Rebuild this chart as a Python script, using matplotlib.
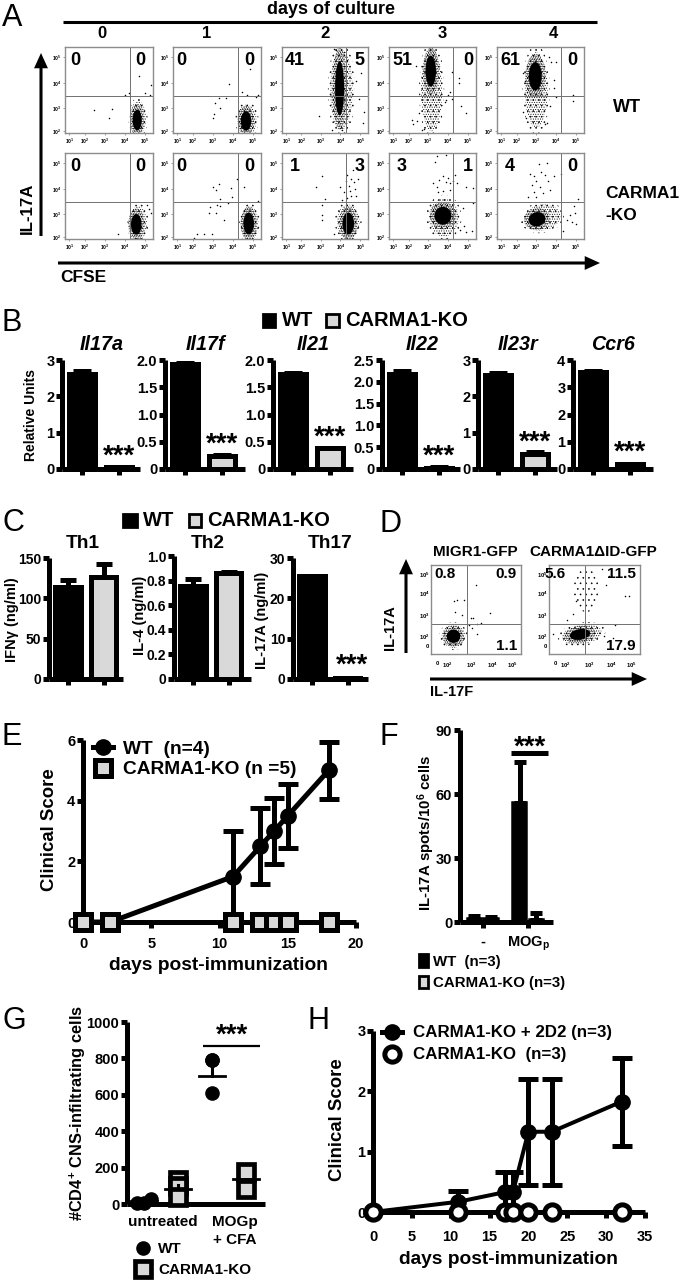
import matplotlib
matplotlib.use("Agg")
import matplotlib.pyplot as plt
from matplotlib.patches import Ellipse, Rectangle

plt.rcParams["font.family"] = ["Liberation Sans", "DejaVu Sans"]
plt.rcParams["font.weight"] = "bold"
plt.rcParams["mathtext.fontset"] = "custom"
plt.rcParams["mathtext.rm"] = "Liberation Sans:bold"
plt.rcParams["mathtext.bf"] = "Liberation Sans:bold"
plt.rcParams["mathtext.default"] = "bf"
plt.rcParams["hatch.linewidth"] = 0.4

W, H = 680, 1280
GREY = "#d9d9d9"
LW = 3.6

# panel A, channels in % of the plot box. Clouds are (x, y, rx, ry, angle)
DAYS = ["0", "1", "2", "3", "4"]
A_WT_NUMS = [("0", "0"), ("0", "0"), ("41", "5"), ("51", "0"), ("61", "0")]
A_KO_NUMS = [("0", "0"), ("0", "0"), ("1", "3"), ("3", "1"), ("4", "0")]
A_WT_CORE = [(82, 15, 7, 16, 0), (83, 14, 8, 15, 0), (67, 52, 7, 42, 0), (48, 72, 8, 24, 0), (44, 66, 10, 22, 0)]
A_WT_FRINGE = [(83, 17, 9, 20, 0), (84, 15, 11, 18, 0), (69, 50, 13, 47, 0), (49, 50, 12, 48, 0), (45, 50, 13, 44, 0)]
A_KO_CORE = [(81, 17, 8, 16, 0), (86, 18, 8, 17, 0), (77, 18, 9, 17, 0), (62, 27, 13, 14, 0), (46, 23, 13, 11, 15)]
A_KO_FRINGE = [(83, 18, 10, 20, 0), (87, 18, 10, 20, 0), (77, 20, 13, 20, 0), (63, 25, 17, 22, 0), (52, 25, 21, 15, 10)]
A_WT_X = [[84, 73, 68, 33, 53, 50, 91, 98, 97],
          [87, 64, 52, 60, 48, 53, 47, 46, 78, 84, 94, 97],
          [43, 86, 94, 92, 90, 95, 60, 63, 72, 75, 70, 58],
          [31, 81, 80, 72, 83, 89, 27, 32, 35, 28, 70, 68, 72, 66, 64, 40, 38],
          [87, 87, 68, 66, 66, 68, 61, 30, 32, 35, 60, 62, 30, 33, 58, 55]]
A_WT_Y = [[66, 47, 44, 27, 28, 17, 47, 56, 44],
          [75, 57, 41, 41, 35, 29, 22, 17, 48, 44, 42, 44],
          [20, 60, 12, 70, 40, 25, 98, 96, 94, 85, 4, 3],
          [78, 64, 58, 71, 31, 23, 15, 14, 23, 11, 48, 44, 40, 38, 36, 5, 3],
          [44, 37, 83, 62, 52, 42, 31, 70, 60, 48, 88, 82, 24, 18, 12, 10]]
A_KO_X = [[60, 93, 96, 98],
          [73, 81, 45, 52, 49, 66, 67, 53, 63, 53, 50, 42, 41, 49, 58, 27, 35, 44, 24, 97],
          [47, 40, 50, 47, 46, 46, 61, 75, 80, 78, 84, 72, 80, 76, 70, 85, 88, 68, 82, 86, 74, 79],
          [53, 55, 65, 51, 58, 62, 68, 74, 78, 55, 66, 70, 76, 56, 70, 62, 96, 89, 96, 85, 86, 95, 89, 82],
          [38, 48, 57, 42, 51, 55, 45, 40, 49, 59, 65, 74, 43, 53, 61, 36, 45, 93, 88, 90, 84, 91, 76, 80, 86]]
A_KO_Y = [[6, 40, 35, 30],
          [70, 60, 61, 64, 57, 59, 49, 46, 42, 38, 39, 37, 30, 30, 22, 6, 6, 6, 1, 44],
          [73, 61, 47, 39, 28, 22, 6, 75, 70, 62, 66, 55, 50, 48, 45, 58, 70, 60, 80, 50, 68, 56],
          [90, 96, 98, 65, 69, 73, 71, 67, 65, 61, 66, 65, 75, 55, 57, 56, 59, 61, 42, 36, 15, 9, 8, 11],
          [76, 87, 88, 73, 78, 75, 67, 63, 61, 67, 73, 76, 55, 54, 57, 49, 49, 46, 38, 30, 28, 17, 9, 22, 20]]

# panel B
GENES = ["Il17a", "Il17f", "Il21", "Il22", "Il23r", "Ccr6"]
B_WT = [2.62, 1.93, 1.74, 2.17, 2.60, 3.55]
B_WT_ERR = [0.08, 0.02, 0.03, 0.08, 0.05, 0.05]
B_KO = [0.05, 0.24, 0.38, 0.03, 0.42, 0.18]
B_KO_ERR = [0.01, 0.01, 0.01, 0.01, 0.06, 0.01]
B_TOPS = [3, 2, 2, 2.5, 3, 4]
B_TICKS = [[0, 1, 2, 3], [0, 0.5, 1, 1.5, 2], [0, 0.5, 1, 1.5, 2], [0, 0.5, 1, 1.5, 2, 2.5], [0, 1, 2, 3], [0, 1, 2, 3, 4]]
B_LABELS = [["0", "1", "2", "3"], ["0", "0.5", "1.0", "1.5", "2.0"], ["0", "0.5", "1.0", "1.5", "2.0"],
            ["0", "0.5", "1.0", "1.5", "2.0", "2.5"], ["0", "1", "2", "3"], ["0", "1", "2", "3", "4"]]

# panel C
C_TITLES = ["Th1", "Th2", "Th17"]
C_YLABELS = ["IFNγ (ng/ml)", "IL-4 (ng/ml)", "IL-17A (ng/ml)"]
C_WT = [114, 0.76, 25.5]
C_WT_ERR = [9, 0.05, 0.0]
C_KO = [126, 0.86, 0.3]
C_KO_ERR = [16, 0.01, 0.0]
C_TOPS = [150, 1.0, 30]
C_TICKS = [[0, 50, 100, 150], [0, 0.2, 0.4, 0.6, 0.8, 1.0], [0, 10, 20, 30]]
C_LABELS = [["0", "50", "100", "150"], ["0", "0.2", "0.4", "0.6", "0.8", "1.0"], ["0", "10", "20", "30"]]

# panel D
D_TITLES = ["MIGR1-GFP", "CARMA1ΔID-GFP"]
D_NUMS = [("0.8", "0.9", "1.1"), ("5.6", "11.5", "17.9")]
D_CORE = [(25, 20, 10, 10, 30), (34, 22, 15, 8, 10)]
D_FRINGE = [(25, 20, 13, 13, 30), (36, 22, 22, 11, 10)]
D_UPPER = [None, (41, 72, 14, 25, 0)]
D_X = [[50, 25, 29, 37, 27, 34, 44, 47, 51, 56, 66, 45, 51, 42],
       [83, 88, 63, 72, 4, 26, 30, 20, 60, 70, 58, 66]]
D_Y = [[77, 59, 61, 61, 47, 44, 40, 40, 34, 35, 46, 29, 23, 33],
       [65, 65, 78, 33, 23, 45, 60, 38, 20, 18, 95, 88]]

# panel E
E_DAYS = [0, 2, 11, 13, 14, 15, 18]
E_WT = [0, 0, 1.5, 2.5, 3.0, 3.5, 5.0]
E_WT_ERR = [0, 0, 1.5, 1.25, 1.1, 1.05, 0.95]
E_KO = [0, 0, 0, 0, 0, 0, 0]

# panel F
F_WT = [1.5, 56]
F_WT_ERR = [1.5, 19]
F_KO = [1.5, 1]
F_KO_ERR = [1.0, 3]

# panel G
G_GROUPS = [0, 1, 2, 3]
G_POINTS = [[5, 8, 30], [130, 100, 40], [790, 790, 610], [175, 85]]
G_MEANS = [15, 85, 705, 135]
G_ERR_UP = [0, 20, 85, 0]

# panel H
H_DAYS = [0, 11, 17, 18, 20, 23, 32]
H_2D2 = [0, 0.17, 0.33, 0.33, 1.33, 1.33, 1.83]
H_2D2_ERR = [0, 0.17, 0.33, 0.33, 0.88, 0.88, 0.73]
H_KO = [0, 0, 0, 0, 0, 0, 0]


fig = plt.figure(figsize=(W / 100, H / 100), dpi=100)
ov = fig.add_axes([0, 0, 1, 1], zorder=10)
ov.set_xlim(0, W)
ov.set_ylim(H, 0)
ov.axis("off")


def add_ax(x0, y0, x1, y1):
    # rectangle given in picture pixels, y going down
    return fig.add_axes([x0 / W, 1 - y1 / H, (x1 - x0) / W, (y1 - y0) / H])


def t(x, y, s, size=10, ha="left", rot=0, weight="bold", **kw):
    ov.text(x, y, s, fontsize=size, ha=ha, va="center", rotation=rot, weight=weight, **kw)


def arrow(x0, y0, x1, y1):
    ov.annotate("", xy=(x1, y1), xytext=(x0, y0),
                arrowprops=dict(width=2.2, headwidth=10, headlength=11, fc="k", ec="k", lw=0, shrink=0))


def square(x0, y0, x1, y1, face):
    ov.add_patch(Rectangle((x0, y0), x1 - x0, y1 - y0, fc=face, ec="k", lw=2))


def thick_axes(ax, top):
    for s in ("top", "right"):
        ax.spines[s].set_visible(False)
    for s in ("left", "bottom"):
        ax.spines[s].set_linewidth(LW)
        ax.spines[s].set_capstyle("butt")
    ax.set_ylim(0, top)
    ax.patch.set_alpha(0)
    ax.tick_params(width=LW, length=4, pad=1.5, labelsize=10.5)


def cloud(ax, c, hatch, scale=1.0):
    ax.add_patch(Ellipse(c[:2], 2 * c[2] * scale, 2 * c[3] * scale, angle=c[4], fill=False, hatch=hatch, lw=0, ec="k"))


def flow(rect, core, fringe, xs, ys, vgate, hgate, xticks, yticks, xlabs, ylabs, extra=None):
    ax = add_ax(*rect)
    ax.set_xlim(0, 100)
    ax.set_ylim(0, 100)
    for s in ax.spines.values():
        s.set_color("#8c8c8c")
        s.set_linewidth(1.0)
    # dense dots read as a speckled cloud, outer ring thinner
    cloud(ax, fringe, "...", 1.2)
    cloud(ax, fringe, ".......")
    if extra is not None:
        cloud(ax, extra, "...")
    cloud(ax, core, "..........", 1.15)
    ax.add_patch(Ellipse(core[:2], 1.5 * core[2], 1.5 * core[3], angle=core[4], fc="k", lw=0))
    ax.scatter(xs, ys, s=1.2, c="k", lw=0)
    ax.axvline(vgate, color="#707070", lw=0.7)
    ax.axhline(hgate, color="#707070", lw=0.7)
    ax.set_xticks(xticks, xlabs)
    ax.set_yticks(yticks, ylabs)
    ax.tick_params(length=1.5, width=0.4, labelsize=3.6, pad=1, color="#555555")
    return ax


# A
A_COLS = [(65, 153), (173, 261), (282, 368), (389, 476), (497, 584)]
A_ROWS = [(47, 133), (153, 239)]
A_XT = [5, 22.5, 45, 68, 91]
A_YT = [2, 29, 58, 88]
A_XL = ["10$^1$", "10$^2$", "10$^3$", "10$^4$", "10$^5$"]
A_YL = ["10$^2$", "10$^3$", "10$^4$", "10$^5$"]
NUM_X = [(12, 86), (10, 87), (15, 90), (15, 91), (15, 87)]
rows = [(A_WT_CORE, A_WT_FRINGE, A_WT_X, A_WT_Y, A_WT_NUMS), (A_KO_CORE, A_KO_FRINGE, A_KO_X, A_KO_Y, A_KO_NUMS)]
for (y0, y1), (core, fringe, xs, ys, nums) in zip(A_ROWS, rows):
    for i, (x0, x1) in enumerate(A_COLS):
        ax = flow((x0, y0, x1, y1), core[i], fringe[i], xs[i], ys[i], 74, 43, A_XT, A_YT, A_XL, A_YL)
        ax.text(NUM_X[i][0], 84, nums[i][0], fontsize=13, ha="center", va="center", zorder=5)
        ax.text(NUM_X[i][1], 84, nums[i][1], fontsize=13, ha="center", va="center", zorder=5)

t(331, 9, "days of culture", 13, ha="center")
ov.plot([63, 597], [22, 22], color="k", lw=2.2, solid_capstyle="butt")
for x, d in zip([102, 207, 325, 442, 553], DAYS):
    t(x, 34, d, 12, ha="center")
arrow(41, 236, 41, 53)
t(27, 208, "IL-17A", 12.2, ha="center", rot=90)
arrow(58, 263, 600, 263)
t(60, 278, "CFSE", 12.5)
t(613, 107, "WT", 13)
t(605, 194, "CARMA1", 12.5)
t(605, 216, "-KO", 12.5)

# B
B_X = [(62, 140), (165, 245), (273, 353), (382, 460), (478, 557), (573, 653)]
for i, (x0, x1) in enumerate(B_X):
    ax = add_ax(x0, 360, x1, 469)
    thick_axes(ax, B_TOPS[i])
    c0 = 20 / 37
    ax.set_xlim(-c0, (x1 - x0 - 20) / 37)
    ax.bar([0, 1], [B_WT[i], B_KO[i]], width=0.72, color=["k", GREY], ec="k", lw=LW, zorder=2)
    ax.errorbar([0, 1], [B_WT[i], B_KO[i]], yerr=[[0, 0], [B_WT_ERR[i], B_KO_ERR[i]]], fmt="none",
                ecolor="k", elinewidth=LW, capsize=6.5, capthick=LW, zorder=3)
    ax.set_xticks([0, 1], ["", ""])
    ax.set_yticks(B_TICKS[i], B_LABELS[i])
    t(x0 + 40, 344, GENES[i], 14.2, ha="center", style="italic")
    t(x0 + 57, 458 - B_KO[i] / B_TOPS[i] * 109, "***", 20, ha="center")
t(31, 415, "Relative Units", 10, ha="center", rot=90)
square(263, 314, 275, 327, "k")
t(282, 320, "WT", 14.5)
square(326, 314, 339, 327, GREY)
t(345, 320, "CARMA1-KO", 14.5)

# C
C_X = [(49, 123), (174, 251), (293, 368)]
C_TOP = [558, 556, 558]
for i, (x0, x1) in enumerate(C_X):
    ax = add_ax(x0, C_TOP[i], x1, 679)
    thick_axes(ax, C_TOPS[i])
    ax.tick_params(labelsize=10)
    ax.set_xlim(-19 / 35.5, (x1 - x0 - 19) / 35.5)
    ax.bar([0, 1], [C_WT[i], C_KO[i]], width=0.72, color=["k", GREY], ec="k", lw=LW, zorder=2)
    if C_WT_ERR[i]:
        ax.errorbar([0, 1], [C_WT[i], C_KO[i]], yerr=[[0, 0], [C_WT_ERR[i], C_KO_ERR[i]]], fmt="none",
                    ecolor="k", elinewidth=LW, capsize=6, capthick=LW, zorder=3)
    ax.set_xticks([0, 1], ["", ""])
    ax.set_yticks(C_TICKS[i], C_LABELS[i])
    t(x0 + 35 - (1 if i < 2 else -2), 543, C_TITLES[i], 13.8, ha="center")
t(12, 620, C_YLABELS[0], 10.5, ha="center", rot=90)
t(140, 615, C_YLABELS[1], 10.5, ha="center", rot=90)
t(262, 620, C_YLABELS[2], 10.5, ha="center", rot=90)
t(352, 666, "***", 20, ha="center")
square(123, 514, 137, 527, "k")
t(143, 520, "WT", 14.5)
square(189, 514, 201, 527, GREY)
t(207, 520, "CARMA1-KO", 14.5)

# D
D_RECTS = [(431, 565, 521, 654), (549, 565, 640, 654)]
D_XT = [6.6, 18.5, 44.3, 68.6, 90.8]
D_YT = [9, 19.5, 44, 68, 90]
D_XL = ["0", "10$^2$", "10$^3$", "10$^4$", "10$^5$"]
D_YL = ["0", "10$^2$", "10$^3$", "10$^4$", "10$^5$"]
for i, r in enumerate(D_RECTS):
    ax = flow(r, D_CORE[i], D_FRINGE[i], D_X[i], D_Y[i], 40, 34, D_XT, D_YT, D_XL, D_YL, D_UPPER[i])
    ax.tick_params(axis="x", labelsize=4.2, pad=5, length=0)
    ax.tick_params(axis="y", labelsize=4.2, length=0)
    t(r[0] + (3 if i == 0 else -5), 574, D_NUMS[i][0], 11)
    t(r[2] - 4, 574, D_NUMS[i][1], 11, ha="right")
    t(r[2] - 4, 646, D_NUMS[i][2], 11, ha="right")
t(475, 552, D_TITLES[0], 11, ha="center")
t(593, 552, D_TITLES[1], 11, ha="center")
arrow(406, 653, 406, 559)
t(390, 628, "IL-17A", 10.5, ha="center", rot=90)
arrow(430, 679, 647, 679)
t(430, 692, "IL-17F", 10.5)

# E
ax = add_ax(83, 740, 356, 922)
thick_axes(ax, 6)
ax.set_xlim(0, 20)
ax.set_xticks([0, 5, 10, 15, 20])
ax.set_yticks([0, 2, 4, 6])
ax.tick_params(labelsize=10.5)
ax.tick_params(axis="x", pad=7)
ax.errorbar(E_DAYS, E_WT, yerr=E_WT_ERR, color="k", lw=LW, marker="o", ms=11, capsize=7, capthick=LW,
            elinewidth=LW, clip_on=False, zorder=3)
ax.plot(E_DAYS, E_KO, ls="none", marker="s", ms=12, mfc=GREY, mec="k", mew=3.6, clip_on=False, zorder=4)
t(218, 966, "days post-immunization", 13.8, ha="center")
t(49, 830, "Clinical Score", 13.4, ha="center", rot=90)
ov.plot([93, 113], [747, 747], color="k", lw=LW)
ov.plot([103], [747], marker="o", ms=11, color="k")
ov.plot([103], [768], marker="s", ms=12, mfc=GREY, mec="k", mew=3.6)
t(123, 750, "WT  (n=4)", 13.8)
t(123, 769, "CARMA1-KO (n =5)", 13.8)

# F
ax = add_ax(460, 730, 553, 922)
thick_axes(ax, 90)
ax.set_xlim(-0.875, 4.76)
ax.set_yticks([0, 30, 60, 90])
ax.set_xticks([0.5, 3.25], ["-", "MOG$_{\\mathrm{p}}$"])
ax.tick_params(axis="x", pad=5, labelsize=10.5)
F_POS = [0, 1, 2.75, 3.75]
F_VALS = [F_WT[0], F_KO[0], F_WT[1], F_KO[1]]
F_ERRS = [F_WT_ERR[0], F_KO_ERR[0], F_WT_ERR[1], F_KO_ERR[1]]
ax.bar(F_POS, F_VALS, width=0.8, color=["k", GREY, "k", GREY], ec="k", lw=LW * 0.7, zorder=2)
ax.errorbar(F_POS, F_VALS, yerr=[[0] * 4, F_ERRS], fmt="none", ecolor="k", elinewidth=LW, capsize=4,
            capthick=LW, zorder=3)
ov.plot([511, 548], [753, 753], color="k", lw=LW, solid_capstyle="butt")
t(530, 748, "***", 20, ha="center")
t(426, 833, "IL-17A spots/10$^{6}$ cells", 10.8, ha="center", rot=90)
square(419, 954, 428, 967, "k")
t(433, 962, "WT  (n=3)", 10.8)
square(419, 976, 428, 988, GREY)
t(433, 983, "CARMA1-KO (n=3)", 10.8)

# G
ax = add_ax(127, 1022, 265, 1204)
thick_axes(ax, 1000)
ax.set_xlim(-0.5, 3.56)
ax.set_xticks([])
ax.set_yticks([0, 200, 400, 600, 800, 1000])
ax.tick_params(labelsize=10.5)
for g, vals, m, e in zip(G_GROUPS, G_POINTS, G_MEANS, G_ERR_UP):
    if g == 0:
        xs = [g - 0.2, g, g + 0.22]
    else:
        xs = [g] * len(vals)
    if g % 2 == 0:
        ax.plot(xs, vals, ls="none", marker="o", ms=9.5, color="k", clip_on=False, zorder=3)
    else:
        ax.plot(xs, vals, ls="none", marker="s", ms=11, mfc=GREY, mec="k", mew=3.4, clip_on=False, zorder=3)
    ax.plot([g - 0.38, g + 0.38], [m, m], color="k", lw=2, clip_on=False, zorder=4)
    if e:
        ax.plot([g, g], [m, m + e], color="k", lw=2.2, zorder=4)
t(163, 1222, "untreated", 11, ha="center")
t(235, 1222, "MOGp", 11, ha="center")
t(235, 1240, "+ CFA", 11, ha="center")
ov.plot([203, 260], [1046, 1046], color="k", lw=1.6, solid_capstyle="butt")
t(232, 1036, "***", 20, ha="center")
t(78, 1113, "#CD4$^{+}$ CNS-infiltrating cells", 11.8, ha="center", rot=90)
ov.plot([143], [1248], marker="o", ms=9.5, color="k")
ov.plot([143], [1269], marker="s", ms=11, mfc=GREY, mec="k", mew=3.4)
t(158, 1249, "WT", 11)
t(158, 1270, "CARMA1-KO", 11)

# H
ax = add_ax(373, 1031, 645, 1212)
thick_axes(ax, 3)
ax.set_xlim(0, 35)
ax.set_xticks([0, 5, 10, 15, 20, 25, 30, 35])
ax.set_yticks([0, 1, 2, 3])
ax.tick_params(labelsize=10.5)
ax.tick_params(axis="x", pad=9)
ax.errorbar(H_DAYS, H_2D2, yerr=H_2D2_ERR, color="k", lw=LW * 0.8, marker="o", ms=11, capsize=7,
            capthick=LW, elinewidth=LW, clip_on=False, zorder=3)
ax.plot(H_DAYS, H_KO, ls="none", marker="o", ms=11, mfc="w", mec="k", mew=3.6, clip_on=False, zorder=4)
t(508, 1260, "days post-immunization", 13.8, ha="center")
t(338, 1120, "Clinical Score", 13.4, ha="center", rot=90)
ov.plot([382, 402], [1032, 1032], color="k", lw=LW)
ov.plot([392], [1032], marker="o", ms=11, color="k")
ov.plot([392], [1054], marker="o", ms=11, mfc="w", mec="k", mew=3.6)
t(413, 1033, "CARMA1-KO + 2D2 (n=3)", 12.2)
t(413, 1054, "CARMA1-KO  (n=3)", 12.2)

# panel letters
for x, y, s in [(2, 18, "A"), (2, 323, "B"), (2, 523, "C"), (380, 524, "D"), (2, 737, "E"), (380, 737, "F"),
                (2, 1021, "G"), (307, 1021, "H")]:
    t(x, y, s, 22, weight="normal")

fig.savefig("out.png", dpi=100)
